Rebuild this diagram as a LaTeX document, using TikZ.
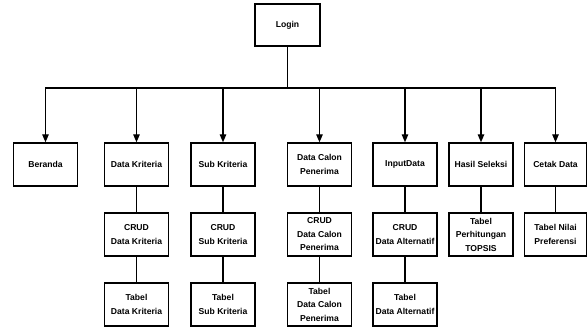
\documentclass[tikz,border=0pt]{standalone}
\usepackage{fontspec}
\setmainfont{Liberation Sans}
\usetikzlibrary{arrows.meta}
\begin{document}
\begin{tikzpicture}[x=1pt,y=-1pt,
  box/.style={draw,line width=1.4pt,minimum width=64pt,minimum height=43pt,inner sep=1pt,align=center,
    font=\fontsize{8.6}{13.5}\selectfont\bfseries},
  conn/.style={line width=1.3pt},
  arr/.style={conn,-{Triangle[length=8pt,width=6.5pt]}}]
\useasboundingbox (0,0) rectangle (587,327);
\node[box,minimum width=65pt,minimum height=42pt] (login) at (287.5,25) {Login};
\node[box] (ber) at (45.5,164.5) {Beranda};
\node[box] (dk) at (136.5,164.5) {Data Kriteria};
\node[box] (sk) at (223,164.5) {Sub Kriteria};
\node[box] (dcp) at (319.5,164.5) {Data Calon\\Penerima};
\node[box] (inp) at (405,164.5) {InputData};
\node[box] (hs) at (481,164.5) {Hasil Seleksi};
\node[box,minimum width=62pt] (cd) at (555.5,164.5) {Cetak Data};
\node[box] (cdk) at (136.5,234.5) {CRUD\\Data Kriteria};
\node[box] (csk) at (223,234.5) {CRUD\\Sub Kriteria};
\node[box] (cdcp) at (319.5,234.5) {CRUD\\Data Calon\\Penerima};
\node[box] (cda) at (405,234.5) {CRUD\\Data Alternatif};
\node[box] (tpt) at (481,234.5) {Tabel\\Perhitungan\\TOPSIS};
\node[box,minimum width=62pt] (tnp) at (555.5,234.5) {Tabel Nilai\\Preferensi};
\node[box] (tdk) at (136.5,304.5) {Tabel\\Data Kriteria};
\node[box] (tsk) at (223,304.5) {Tabel\\Sub Kriteria};
\node[box] (tdcp) at (319.5,304.5) {Tabel\\Data Calon\\Penerima};
\node[box] (tda) at (405,304.5) {Tabel\\Data Alternatif};
\coordinate (bj) at (287.5,88);
\draw[conn] (login.south) -- (bj);
\foreach \c in {ber,dk,sk,dcp,inp,hs,cd}{
  \draw[arr] (bj) -| (\c.north);
}
\draw[conn] (dk) -- (cdk) (cdk) -- (tdk);
\draw[conn] (sk) -- (csk) (csk) -- (tsk);
\draw[conn] (dcp) -- (cdcp) (cdcp) -- (tdcp);
\draw[conn] (inp) -- (cda) (cda) -- (tda);
\draw[conn] (hs) -- (tpt);
\draw[conn] (cd) -- (tnp);
\end{tikzpicture}
\end{document}
